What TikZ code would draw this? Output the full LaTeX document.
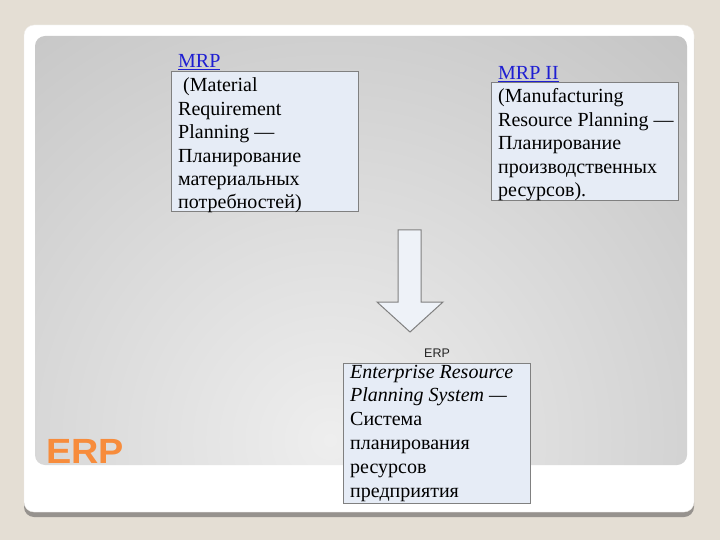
\documentclass[tikz,border=0pt]{standalone}
\usepackage{fontspec}
\usepackage{graphicx}
\setmainfont{Liberation Serif}
\newfontfamily\sansf{Liberation Sans}
\definecolor{bgbeige}{RGB}{228,222,212}
\definecolor{cardshadow}{RGB}{150,146,142}
\definecolor{cardedge}{RGB}{238,236,232}
\definecolor{panelin}{RGB}{238,238,238}
\definecolor{panelout}{RGB}{150,150,150}
\definecolor{boxfill}{RGB}{230,236,246}
\definecolor{boxedge}{RGB}{128,128,128}
\definecolor{linkblue}{RGB}{30,30,210}
\definecolor{erporange}{RGB}{247,140,60}
\definecolor{arrowfill}{RGB}{238,242,248}
\tikzset{
  boxst/.style={draw=boxedge, line width=1pt, fill=boxfill, rectangle, inner sep=0pt, anchor=north west, minimum width=187pt},
  txt/.style={anchor=base west, align=left, inner sep=0pt, font=\fontsize{20}{23.4}\selectfont, text=black},
  lbl/.style={anchor=base west, inner sep=0pt, font=\fontsize{20}{24}\selectfont, text=linkblue},
  arrowst/.style={draw=boxedge, line width=1pt, fill=arrowfill, line join=miter}
}
\begin{document}
\begin{tikzpicture}[x=1pt,y=-1pt]
\useasboundingbox (0,0) rectangle (720,540);
\fill[bgbeige] (0,0) rectangle (720,540);
% card
\fill[cardshadow, rounded corners=10pt] (24,29) rectangle (694,517);
\filldraw[fill=white, draw=cardedge, rounded corners=10pt] (24,25) rectangle (694,512);
% gray panel
\begin{scope}
\clip[rounded corners=10pt] (35,36) rectangle (687,465);
\shade[inner color=panelin, outer color=panelout] (330,440) circle[radius=1150pt];
\end{scope}
% MRP (text node anchored at the baseline of its last line)
\node[lbl] (mrplabel) at (178,68) {\underline{MRP}};
\node[boxst, minimum height=140pt] (mrpbox) at (171,71) {};
\node[txt] (mrptext) at (178,209) {\ (Material\\Requirement\\Planning —\\Планирование\\материальных\\потребностей)};
% MRP II
\node[lbl] (mrp2label) at (498,80) {\underline{MRP II}};
\node[boxst, minimum height=118pt] (mrp2box) at (491,82) {};
\node[txt] (mrp2text) at (498,196.6) {(Manufacturing\\Resource Planning —\\Планирование\\производственных\\ресурсов).};
% arrow
\draw[arrowst] (398,230) -- (421,230) -- (421,302) -- (443,302) -- (410,332) -- (377,302) -- (398,302) -- cycle;
% ERP
\node[anchor=base west, inner sep=0pt, font=\sansf\fontsize{12.5}{14}\selectfont, text={black!85}] (erplabel) at (424,357) {ERP};
\node[boxst, minimum height=140pt] (erpbox) at (343,363) {};
\node[txt, font=\fontsize{20}{23.8}\selectfont] (erptext) at (350,497) {\textit{Enterprise Resource}\\\textit{Planning System —}\\Система\\планирования\\ресурсов\\предприятия};
% title
\node[anchor=base west, inner sep=0pt, font=\sansf\bfseries\fontsize{35}{40}\selectfont, text=erporange] (erptitle) at (46,463) {\scalebox{1.08}[1]{ERP}};
\end{tikzpicture}
\end{document}
